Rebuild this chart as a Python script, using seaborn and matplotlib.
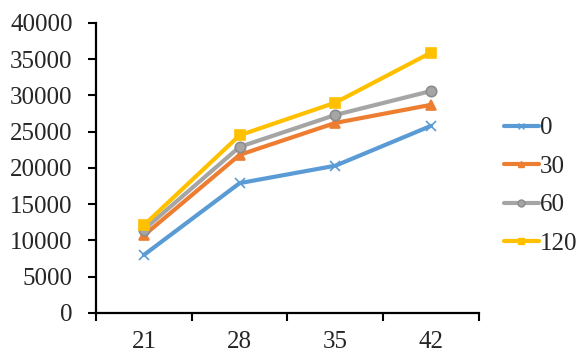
import matplotlib
matplotlib.use("Agg")
import matplotlib.pyplot as plt
import seaborn as sns
import pandas as pd

days = ["21", "28", "35", "42"]
series_names = ["0", "30", "60", "120"]
vals_0 = [8000, 17900, 20300, 25800]
vals_30 = [10700, 21800, 26200, 28700]
vals_60 = [11500, 22900, 27300, 30600]
vals_120 = [12100, 24500, 29000, 35900]
y_ticks = [0, 5000, 10000, 15000, 20000, 25000, 30000, 35000, 40000]

colors = ["#5B9BD5", "#ED7D31", "#A5A5A5", "#FFC000"]
edge_colors = ["#5B9BD5", "#ED7D31", "#8C8C8C", "#FFC000"]
markers = ["x", "^", "o", "s"]
marker_sizes = [7, 7.5, 7.5, 7.5]

sns.set_style("white")
plt.rcParams["font.family"] = ["Liberation Serif", "DejaVu Serif"]

fig = plt.figure(figsize=(5.79, 3.52), dpi=100)
ax = fig.add_axes([0.166, 0.111, 0.661, 0.824])

series_vals = [vals_0, vals_30, vals_60, vals_120]
for name, vals, c, ec, m, ms in zip(series_names, series_vals, colors,
                                    edge_colors, markers, marker_sizes):
    df = pd.DataFrame({"pos": range(len(days)), "value": vals})
    sns.lineplot(data=df, x="pos", y="value", color=c, marker=m,
                 markersize=ms, markerfacecolor=c, markeredgecolor=ec,
                 markeredgewidth=1.2, linewidth=3, ax=ax, label=name,
                 legend=False)

ax.set_xlim(-0.5, 3.5)
ax.set_ylim(0, 40000)
ax.set_yticks(y_ticks)
ax.set_yticklabels([str(t) for t in y_ticks], fontsize=18)
ax.set_xticks([-0.5, 0.5, 1.5, 2.5, 3.5])
ax.set_xticklabels([])
ax.set_xticks(range(len(days)), minor=True)
ax.set_xticklabels(days, minor=True, fontsize=18)
ax.tick_params(axis="x", which="major", direction="out", length=6, width=1.5, color="black", bottom=True)
ax.tick_params(axis="x", which="minor", length=0, pad=13)
ax.tick_params(axis="y", direction="out", length=6, width=1.5, color="black", left=True, pad=11)
ax.set_xlabel("")
ax.set_ylabel("")
for s in ["top", "right"]:
    ax.spines[s].set_visible(False)
for s in ["left", "bottom"]:
    ax.spines[s].set_color("black")
    ax.spines[s].set_linewidth(1.6)

handles = [plt.Line2D([], [], color=c, marker=m, linewidth=3, markersize=5,
                      markerfacecolor=c, markeredgecolor=ec)
           for c, ec, m in zip(colors, edge_colors, markers)]
fig.legend(handles, series_names, loc="upper left", bbox_to_anchor=(0.870, 0.668),
           frameon=False, fontsize=18, handlelength=1.4, handletextpad=0.05,
           labelspacing=0.64, borderaxespad=0, borderpad=0)

fig.savefig("out.png", dpi=100)
